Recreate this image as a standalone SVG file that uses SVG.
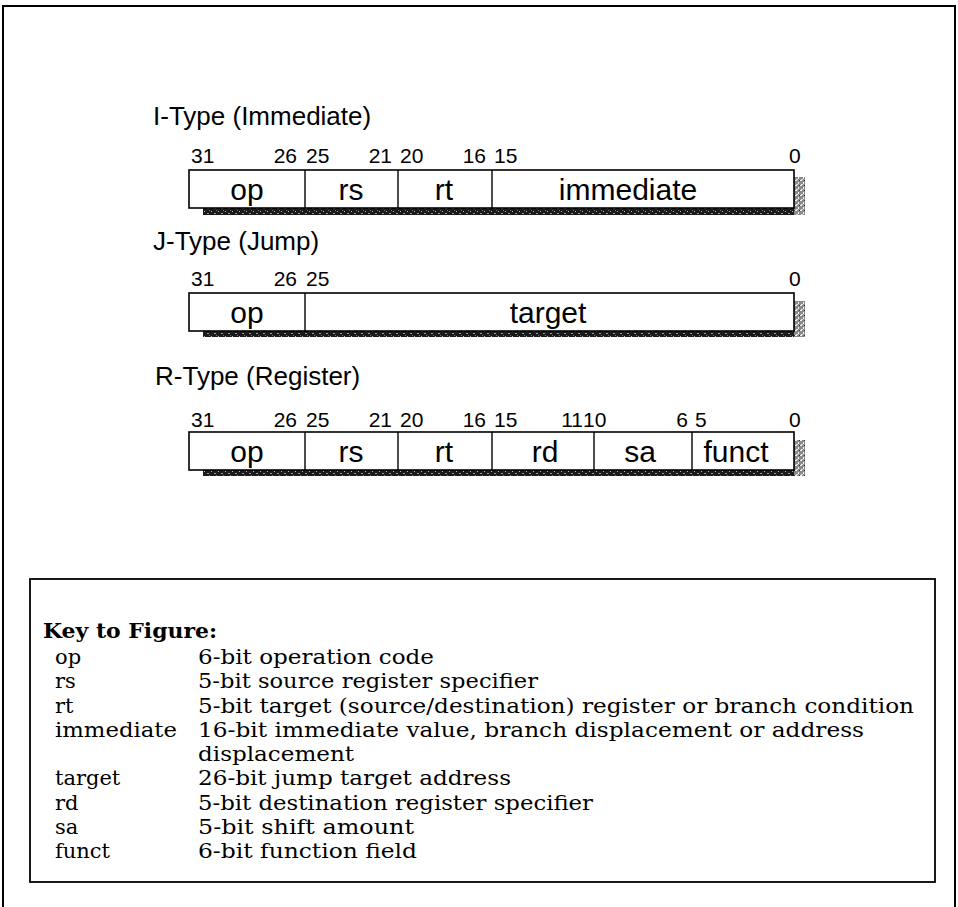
<svg xmlns="http://www.w3.org/2000/svg" width="958" height="907" viewBox="0 0 958 907">
<defs>
<pattern id="shDark" width="7" height="5" patternUnits="userSpaceOnUse">
<rect width="7" height="5" fill="#1a1a1a"/>
<rect x="1" y="1" width="1" height="1" fill="#bbb"/>
<rect x="4" y="3" width="2" height="1" fill="#999"/>
<rect x="6" y="0" width="1" height="1" fill="#777"/>
</pattern>
<pattern id="shLight" width="5" height="5" patternUnits="userSpaceOnUse">
<rect width="5" height="5" fill="#8a8a8a"/>
<rect x="0" y="0" width="2" height="1" fill="#eee"/>
<rect x="3" y="2" width="1" height="2" fill="#f4f4f4"/>
<rect x="1" y="4" width="2" height="1" fill="#ddd"/>
<rect x="4" y="0" width="1" height="1" fill="#333"/>
</pattern>
</defs>
<style>
.frame{fill:none;stroke:#000;stroke-width:2}
.box{fill:#fff;stroke:#000;stroke-width:1.6}
.div{stroke:#000;stroke-width:1.4}
.title{font-family:"Liberation Sans",Arial,sans-serif;font-size:26px;fill:#000}
.num{font-family:"Liberation Sans",Arial,sans-serif;font-size:21px;fill:#000}
.lbl{font-family:"Liberation Sans",Arial,sans-serif;font-size:30px;fill:#000;text-anchor:middle}
.key{font-family:"DejaVu Serif","Liberation Serif",serif;font-size:21px;fill:#000}
.keyb{font-family:"DejaVu Serif","Liberation Serif",serif;font-size:21px;font-weight:bold;fill:#000}
.e{text-anchor:end}
</style>
<rect width="958" height="907" fill="#fff"/>
<path class="frame" d="M3,907 V6 H955 V907"/>

<g id="itype">
<text class="title" x="153" y="125">I-Type (Immediate)</text>
<text class="num" x="191" y="163">31</text>
<text class="num e" x="297" y="163">26</text>
<text class="num" x="306" y="163">25</text>
<text class="num e" x="392" y="163">21</text>
<text class="num" x="400" y="163">20</text>
<text class="num e" x="486" y="163">16</text>
<text class="num" x="494" y="163">15</text>
<text class="num" x="789" y="163">0</text>
<rect x="203" y="208" width="602" height="7" fill="url(#shDark)"/>
<rect x="794" y="177" width="11" height="38" fill="url(#shLight)"/>
<rect class="box" x="189" y="170" width="605" height="38"/>
<line class="div" x1="305" y1="170" x2="305" y2="208"/>
<line class="div" x1="398" y1="170" x2="398" y2="208"/>
<line class="div" x1="492" y1="170" x2="492" y2="208"/>
<text class="lbl" x="247" y="200">op</text>
<text class="lbl" x="351" y="200">rs</text>
<text class="lbl" x="444" y="200">rt</text>
<text class="lbl" x="628" y="200">immediate</text>
</g>

<g id="jtype">
<text class="title" x="153" y="250">J-Type (Jump)</text>
<text class="num" x="191" y="286">31</text>
<text class="num e" x="297" y="286">26</text>
<text class="num" x="306" y="286">25</text>
<text class="num" x="789" y="286">0</text>
<rect x="203" y="331" width="602" height="6" fill="url(#shDark)"/>
<rect x="794" y="301" width="11" height="36" fill="url(#shLight)"/>
<rect class="box" x="189" y="293" width="605" height="38"/>
<line class="div" x1="305" y1="293" x2="305" y2="331"/>
<text class="lbl" x="247" y="323">op</text>
<text class="lbl" x="548" y="323">target</text>
</g>

<g id="rtype">
<text class="title" x="155" y="385">R-Type (Register)</text>
<text class="num" x="191" y="427">31</text>
<text class="num e" x="297" y="427">26</text>
<text class="num" x="306" y="427">25</text>
<text class="num e" x="392" y="427">21</text>
<text class="num" x="400" y="427">20</text>
<text class="num e" x="486" y="427">16</text>
<text class="num" x="494" y="427">15</text>
<text class="num e" x="583" y="427">11</text>
<text class="num" x="583" y="427">10</text>
<text class="num e" x="688" y="427">6</text>
<text class="num" x="695" y="427">5</text>
<text class="num" x="789" y="427">0</text>
<rect x="203" y="470" width="602" height="6" fill="url(#shDark)"/>
<rect x="794" y="440" width="11" height="36" fill="url(#shLight)"/>
<rect class="box" x="189" y="432" width="605" height="38"/>
<line class="div" x1="305" y1="432" x2="305" y2="470"/>
<line class="div" x1="398" y1="432" x2="398" y2="470"/>
<line class="div" x1="492" y1="432" x2="492" y2="470"/>
<line class="div" x1="594" y1="432" x2="594" y2="470"/>
<line class="div" x1="692" y1="432" x2="692" y2="470"/>
<text class="lbl" x="545" y="462">rd</text>
<text class="lbl" x="640" y="462">sa</text>
<text class="lbl" x="736" y="462">funct</text>
<text class="lbl" x="247" y="462">op</text>
<text class="lbl" x="351" y="462">rs</text>
<text class="lbl" x="444" y="462">rt</text>
</g>

<g id="key">
<rect x="30" y="579" width="905" height="303" fill="#fff" stroke="#000" stroke-width="1.8"/>
<text class="keyb" x="43" y="638" textLength="174" lengthAdjust="spacingAndGlyphs">Key to Figure:</text>
<text class="key" x="55" y="664">op</text>
<text class="key" x="198" y="664" textLength="236" lengthAdjust="spacingAndGlyphs">6-bit operation code</text>
<text class="key" x="55" y="688">rs</text>
<text class="key" x="198" y="688" textLength="340" lengthAdjust="spacingAndGlyphs">5-bit source register specifier</text>
<text class="key" x="55" y="712.5">rt</text>
<text class="key" x="198" y="712.5" textLength="716" lengthAdjust="spacingAndGlyphs">5-bit target (source/destination) register or branch condition</text>
<text class="key" x="55" y="737" textLength="122" lengthAdjust="spacingAndGlyphs">immediate</text>
<text class="key" x="198" y="737" textLength="666" lengthAdjust="spacingAndGlyphs">16-bit immediate value, branch displacement or address</text>
<text class="key" x="198" y="761" textLength="156" lengthAdjust="spacingAndGlyphs">displacement</text>
<text class="key" x="55" y="785">target</text>
<text class="key" x="198" y="785" textLength="313" lengthAdjust="spacingAndGlyphs">26-bit jump target address</text>
<text class="key" x="55" y="809.5">rd</text>
<text class="key" x="198" y="809.5" textLength="395" lengthAdjust="spacingAndGlyphs">5-bit destination register specifier</text>
<text class="key" x="55" y="834">sa</text>
<text class="key" x="198" y="834" textLength="216" lengthAdjust="spacingAndGlyphs">5-bit shift amount</text>
<text class="key" x="55" y="858">funct</text>
<text class="key" x="198" y="858" textLength="219" lengthAdjust="spacingAndGlyphs">6-bit function field</text>
</g>
</svg>
